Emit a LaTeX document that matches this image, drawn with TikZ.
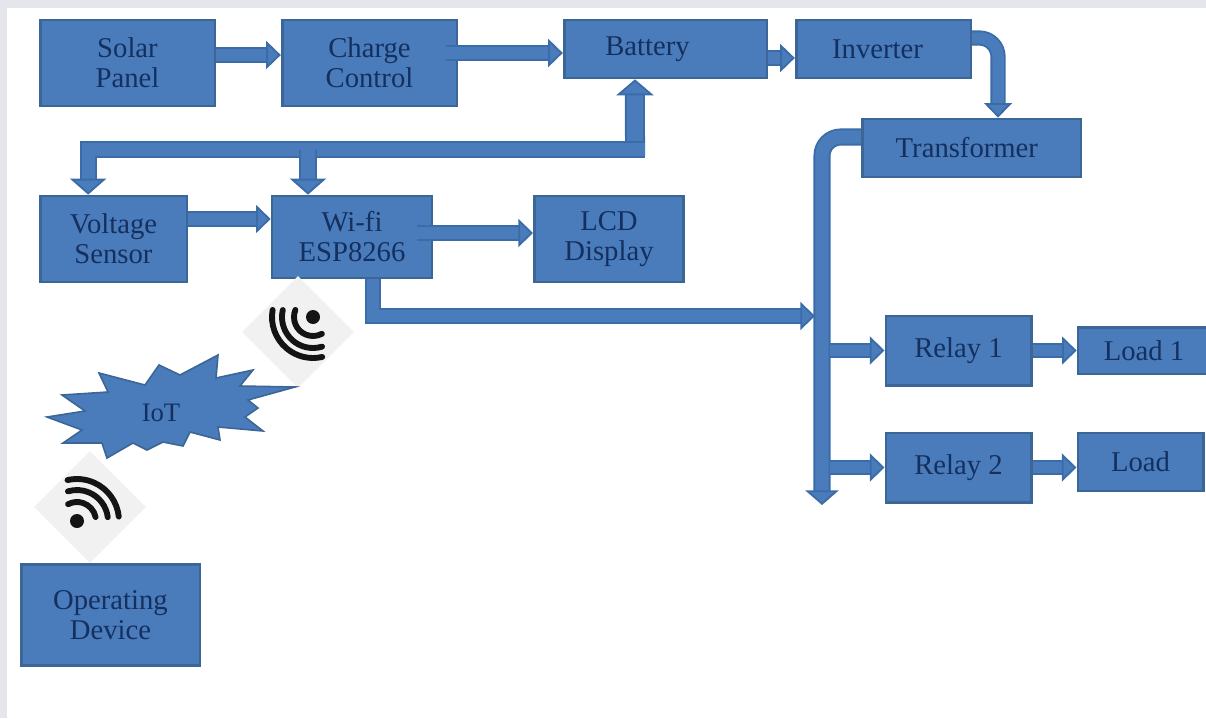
\documentclass[tikz,border=0pt]{standalone}
\usepackage{fontspec}
\setmainfont{Liberation Serif}
\usetikzlibrary{arrows.meta,shapes.geometric}
\definecolor{boxfill}{HTML}{4A7BBB}
\definecolor{boxline}{HTML}{3C6696}
\definecolor{pipeline}{HTML}{3A6CA8}
\definecolor{boxtext}{HTML}{14305F}
\definecolor{pagegrey}{HTML}{E4E6EC}
\definecolor{iconback}{HTML}{F1F1F1}
\definecolor{iconink}{HTML}{141414}
\tikzset{
    block/.style={draw=boxline, fill=boxfill, line width=2pt, inner sep=0pt, align=center,
        text=boxtext, font=\fontsize{21.5}{22.5}\selectfont},
    pipe/.style={draw=pipeline, line width=1.4pt, double=boxfill, double distance=8.6pt,
        -{Triangle[length=11pt,width=21pt,fill=boxfill]}},
    pipewide/.style={pipe, double distance=10pt,
        -{Triangle[length=12pt,width=27pt,fill=boxfill]}},
    iconbase/.style={diamond, fill=iconback, minimum width=84pt, minimum height=84pt, inner sep=0pt},
    waves/.style={draw=iconink, line width=4.4pt, line cap=round},
}
\begin{document}
\begin{tikzpicture}[x=0.75pt,y=0.75pt]
    \useasboundingbox (0,0) rectangle (1206,-718);
    \fill[pagegrey] (0,0) rectangle (7,-718);
    \fill[pagegrey] (0,0) rectangle (1206,-8);

    \node[block, minimum width=131pt, minimum height=64.5pt] (solar) at (127.5,-63) {Solar\\Panel};
    \node[block, minimum width=131pt, minimum height=64.5pt] (charge) at (369.5,-63) {Charge\\Control};
    \node[block, minimum width=152pt, minimum height=43.5pt] (battery) at (665.5,-49) {Battery\hspace{27pt}};
    \node[block, minimum width=131pt, minimum height=43.5pt] (inverter) at (883.5,-49) {Inverter\hspace{9pt}};
    \node[block, minimum width=164pt, minimum height=43.5pt] (transformer) at (971.5,-148) {Transformer\hspace{7pt}};
    \node[block, minimum width=110pt, minimum height=64.5pt] (voltage) at (113.5,-239) {Voltage\\Sensor};
    \node[block, minimum width=120pt, minimum height=61.5pt] (wifi) at (352,-237) {Wi-fi\\ESP8266};
    \node[block, minimum width=112pt, minimum height=64.5pt] (lcd) at (609,-239) {LCD\\Display};
    \node[block, minimum width=109pt, minimum height=52pt] (relaya) at (958.5,-350.5) {Relay 1};
    \node[block, minimum width=99pt, minimum height=35pt] (loada) at (1144,-350.5) {Load 1};
    \node[block, minimum width=109pt, minimum height=52pt] (relayb) at (958.5,-467.5) {Relay 2};
    \node[block, minimum width=94pt, minimum height=43.5pt] (loadb) at (1140.5,-462) {Load};
    \node[block, minimum width=134pt, minimum height=76pt] (device) at (110.5,-615) {Operating\hspace{6pt}\\Device\hspace{6pt}};

    % wifi icons
    \node[iconbase] (iconup) at (298,-332) {};
    \node[iconbase] (icondown) at (90,-507) {};
    \fill[iconink] (313,-317) circle (7);
    \draw[waves] (313,-317) ++(158:19) arc[start angle=158, end angle=298, radius=19];
    \draw[waves] (313,-317) ++(167:31) arc[start angle=167, end angle=287, radius=31];
    \draw[waves] (313,-317) ++(170:41) arc[start angle=170, end angle=283, radius=41];
    \fill[iconink] (77,-521) circle (7);
    \draw[waves] (77,-521) ++(12:19) arc[start angle=12, end angle=118, radius=19];
    \draw[waves] (77,-521) ++(7:31) arc[start angle=7, end angle=107, radius=31];
    \draw[waves] (77,-521) ++(6:42) arc[start angle=6, end angle=103, radius=42];

    % cloud
    \draw[draw=boxline, fill=boxfill, line width=1.2pt, line join=miter]
        (47,-417) -- (85,-411) -- (62,-395) -- (108,-392) -- (99,-373) -- (145,-385) -- (159,-365)
        -- (180,-375) -- (218,-355) -- (216,-378) -- (253,-370) -- (240,-386) -- (295,-387)
        -- (248,-400) -- (258,-408) -- (245,-417) -- (263,-431) -- (218,-427) -- (220,-440)
        -- (190,-432) -- (183,-446) -- (163,-442) -- (147,-450) -- (133,-443) -- (107,-458)
        -- (102,-443) -- (63,-443) -- (82,-430) -- cycle;
    \node[text=boxtext, font=\fontsize{20}{21}\selectfont] (iot) at (161,-413) {IoT};

    % top row
    \draw[pipe] ([yshift=6pt]solar.east) -- ([yshift=6pt]charge.west);
    \draw[pipe] ([xshift=-9pt,yshift=7.5pt]charge.east) -- ([yshift=-3pt]battery.west);
    \draw[pipe] ([yshift=-6.75pt]battery.east) -- ([yshift=-6.75pt]inverter.west);
    \draw[pipe, rounded corners=14pt] ([yshift=8.25pt]inverter.east) -| ([xshift=19.9pt]transformer.north);

    % battery feed
    \coordinate (busstub) at (635,-156);
    \coordinate (busright) at (645,-149.5);
    \coordinate (volttop) at ([xshift=-19pt]voltage.north);
    \coordinate (wifitop) at ([xshift=-33pt]wifi.north);
    \draw[pipewide, double distance=12.2pt, -{Triangle[length=12pt,width=28pt,fill=boxfill]}] (busstub) -- ([xshift=-22.9pt]battery.south);
    \draw[pipewide] (busright) -| (volttop);
    \draw[pipewide] (wifitop |- busright) -- (wifitop);

    % sensor and wifi
    \draw[pipe] ([yshift=15pt]voltage.east) -- ([yshift=13.5pt]wifi.west);
    \draw[pipe] ([xshift=-12pt,yshift=3pt]wifi.east) -- ([yshift=4.5pt]lcd.west);
    \coordinate (wifiout) at ([xshift=15.75pt]wifi.south);
    \coordinate (bustap) at (815,-316);
    \draw[pipe] (wifiout) |- (bustap);

    % main bus
    \coordinate (busend) at (822,-505);
    \coordinate (tapa) at (830,-350.5);
    \coordinate (tapb) at (830,-467.5);
    \draw[pipewide, rounded corners=14pt, -{Triangle[length=11pt,width=25pt,fill=boxfill]}] ([yshift=8.25pt]transformer.west) -| (busend);
    \draw[pipe] (tapa) -- (relaya.west);
    \draw[pipe] (tapb) -- (relayb.west);
    \draw[pipe] (relaya.east) -- (loada.west);
    \draw[pipe] (relayb.east) -- (relayb.east -| loadb.west);
\end{tikzpicture}
\end{document}
